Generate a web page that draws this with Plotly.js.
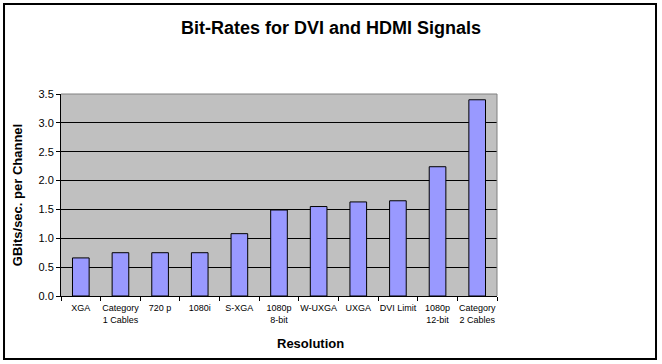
<!DOCTYPE html>
<html>
<head>
<meta charset="utf-8">
<script src="https://cdn.plot.ly/plotly-3.0.1.min.js"></script>
<style>
html,body{margin:0;padding:0;background:#fff;}
#chart{width:662px;height:364px;}
</style>
</head>
<body>
<div id="chart"></div>
<script>
var categories = ["XGA", "Category<br>1 Cables", "720 p", "1080i", "S-XGA", "1080p<br>8-bit", "W-UXGA", "UXGA", "DVI Limit", "1080p<br>12-bit", "Category<br>2 Cables"];
var bitRates = [0.66, 0.75, 0.75, 0.75, 1.08, 1.49, 1.55, 1.63, 1.65, 2.24, 3.40];
var yTicks = [0, 0.5, 1.0, 1.5, 2.0, 2.5, 3.0, 3.5];

var font = "'Liberation Sans', Arial, sans-serif";
var trace = {
  type: "bar",
  x: categories,
  y: bitRates,
  marker: {color: "#9999ff", line: {color: "#000000", width: 1}},
  hoverinfo: "skip"
};
var layout = {
  width: 662, height: 364,
  margin: {l: 61, r: 165, t: 94, b: 68, pad: 0},
  paper_bgcolor: "#ffffff",
  plot_bgcolor: "#c0c0c0",
  bargap: 0.58,
  showlegend: false,
  font: {family: font, color: "#000000"},
  title: {text: "<b>Bit-Rates for DVI and HDMI Signals</b>", font: {family: font, size: 18, color: "#000"}, x: 0.5, xref: "container", xanchor: "center", y: 0.925, yanchor: "middle"},
  xaxis: {
    type: "category",
    showline: true, linecolor: "#000", linewidth: 1,
    ticks: "outside", ticklen: 4, tickcolor: "#000", tickson: "boundaries",
    tickangle: 0, ticklabelstandoff: 3,
    tickfont: {family: font, size: 9, color: "#000"},
    showgrid: false, fixedrange: true
  },
  yaxis: {
    range: [0, 3.5], tickvals: yTicks, tickformat: ".1f",
    showline: true, linecolor: "#000", linewidth: 1,
    ticks: "outside", ticklen: 4, tickcolor: "#000",
    tickfont: {family: font, size: 11, color: "#000"},
    showgrid: true, gridcolor: "#000", gridwidth: 1,
    zeroline: false,
    title: {text: "<b>GBits/sec. per Channel</b>", font: {family: font, size: 13, color: "#000"}, standoff: 12},
    fixedrange: true
  },
  annotations: [{
    text: "<b>Resolution</b>", xref: "paper", yref: "paper", x: 0.573, y: -0.235,
    xanchor: "center", yanchor: "middle", showarrow: false,
    font: {family: font, size: 13, color: "#000"}
  }],
  shapes: [
    {type: "line", xref: "paper", yref: "paper", x0: 0, x1: 1, y0: 1, y1: 1, line: {color: "#808080", width: 1}, layer: "above"},
    {type: "line", xref: "paper", yref: "paper", x0: 1, x1: 1, y0: 0, y1: 1, line: {color: "#808080", width: 1}, layer: "above"},
    {type: "rect", xref: "paper", yref: "paper", x0: -0.1307, x1: 1.3647, y0: -0.3119, y1: 1.4455, line: {color: "#000", width: 2}, fillcolor: "rgba(0,0,0,0)", layer: "above"}
  ]
};
Plotly.newPlot("chart", [trace], layout, {staticPlot: true, displayModeBar: false});
</script>
</body>
</html>
